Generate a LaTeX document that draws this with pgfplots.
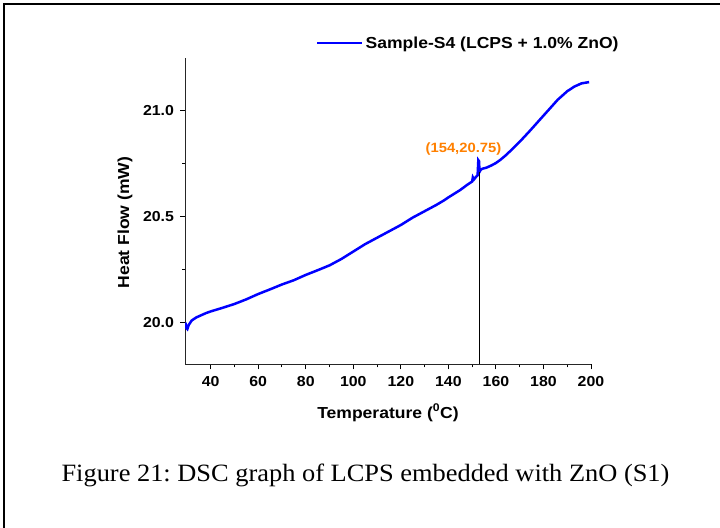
\documentclass[border=0pt]{standalone}
\usepackage{fontspec}
\setmainfont{Liberation Sans}[FakeStretch=1.1]
\newfontfamily\capfont{Liberation Serif}[FakeStretch=1.06]
\usepackage{pgfplots}
\pgfplotsset{compat=1.18}
\definecolor{annot}{RGB}{255,128,0}
\frenchspacing
\begin{document}
\begin{tikzpicture}
\useasboundingbox (0bp,0bp) rectangle (720bp,528bp);
\draw[line width=2bp] (4.3bp,0bp) -- (4.3bp,523.7bp) -- (720bp,523.7bp);
\begin{axis}[
  at={(185bp,163.7bp)}, anchor=south west,
  scale only axis, width=406bp, height=306.6bp,
  xmin=29.2, xmax=200, ymin=19.804, ymax=21.248,
  axis x line*=bottom, axis y line*=left,
  axis line style={line width=1bp, black!85, -},
  xtick={40,60,...,200}, ytick={20,20.5,21},
  minor x tick num=1, minor y tick num=1,
  tick align=outside, major tick length=5bp, minor tick length=3bp,
  every tick/.style={line width=1bp, black},
  /pgf/number format/assume math mode=true,
  yticklabel style={/pgf/number format/.cd, fixed, fixed zerofill, precision=1, /tikz/.cd, xshift=-2.5bp},
  xticklabel style={/pgf/number format/.cd, fixed, precision=0, /tikz/.cd, yshift=-3.5bp},
  tick label style={font=\bfseries\fontsize{14.5}{16}\selectfont},
  xlabel={Temperature (\textsuperscript{0}C)},
  ylabel={Heat Flow (mW)},
  xlabel style={font=\bfseries\fontsize{16}{18}\selectfont, at={(axis description cs:0.5,-0.158)}, anchor=center},
  ylabel style={font=\bfseries\fontsize{16}{18}\selectfont, at={(axis description cs:-0.148,0.462)}, anchor=center},
  legend style={at={(axis description cs:0.3227,1.048)}, anchor=west, draw=none, fill=none, inner sep=0pt,
    font=\bfseries\fontsize{16}{18}\selectfont},
  legend image code/.code={\draw[#1] (0bp,0bp) -- (45bp,0bp);},
]
\addplot[color={rgb,255:red,0;green,0;blue,255}, line width=2.5bp] coordinates {
(29.4,20.00) (29.8,19.975) (30.2,19.97) (30.8,19.99) (32,20.01) (34,20.025) (36,20.035) (38,20.045)
(40,20.053) (45,20.07) (50,20.088) (55,20.11) (60,20.135) (65,20.157) (70,20.18) (75,20.20)
(80,20.225) (85,20.247) (90,20.27) (95,20.30) (100,20.335) (105,20.37) (110,20.40) (115,20.43)
(120,20.46) (125,20.495) (130,20.525) (135,20.555) (138,20.575) (140,20.59) (145,20.625) (148,20.65)
(150,20.665) (150.3,20.685) (150.8,20.675) (151.5,20.685) (152.3,20.695) (152.6,20.765) (152.9,20.76)
(153.1,20.71) (153.6,20.72) (154.3,20.725) (156,20.73) (158,20.74) (160,20.752) (162,20.768)
(164,20.787) (166,20.808) (168,20.83) (170,20.852) (174,20.90) (178,20.95) (182,21.0) (186,21.05)
(190,21.09) (193,21.112) (196,21.127) (199.2,21.133)
};
\addlegendentry{Sample-S4 (LCPS + 1.0\% ZnO)}
\addplot[black, line width=0.8bp, forget plot] coordinates {(153.0,20.71) (153.0,19.804)};
\node[text=annot, font=\bfseries\fontsize{13.5}{15}\selectfont] at (axis cs:146.35,20.818) {(154,20.75)};
\end{axis}
\node[font=\capfont\fontsize{25}{30}\selectfont, anchor=base] at (365.5bp,46.5bp) {Figure 21: DSC graph of LCPS embedded with ZnO (S1)};
\end{tikzpicture}
\end{document}
